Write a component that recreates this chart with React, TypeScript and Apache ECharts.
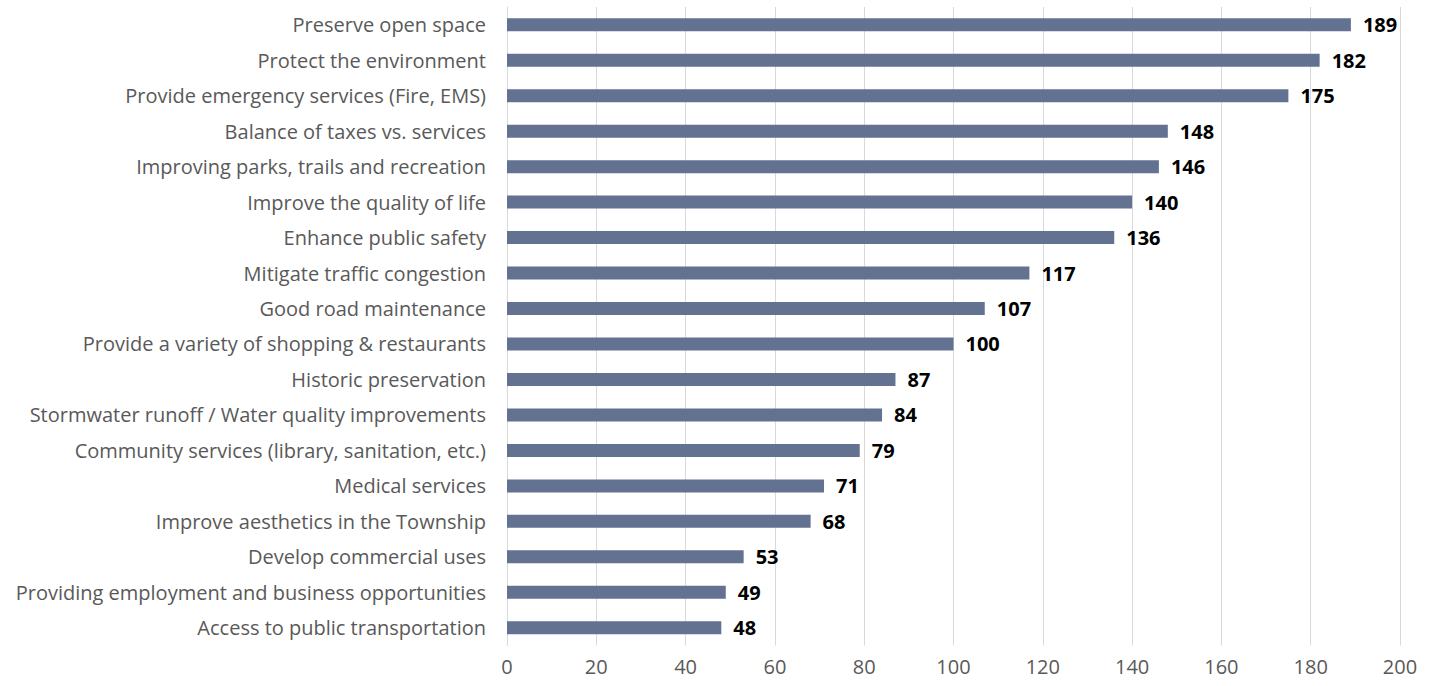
import React, { useEffect, useRef } from "react";
import * as echarts from "echarts";

const categories = [
  "Preserve open space",
  "Protect the environment",
  "Provide emergency services (Fire, EMS)",
  "Balance of taxes vs. services",
  "Improving parks, trails and recreation",
  "Improve the quality of life",
  "Enhance public safety",
  "Mitigate traffic congestion",
  "Good road maintenance",
  "Provide a variety of shopping & restaurants",
  "Historic preservation",
  "Stormwater runoff / Water quality improvements",
  "Community services (library, sanitation, etc.)",
  "Medical services",
  "Improve aesthetics in the Township",
  "Develop commercial uses",
  "Providing employment and business opportunities",
  "Access to public transportation",
];
const values = [189, 182, 175, 148, 146, 140, 136, 117, 107, 100, 87, 84, 79, 71, 68, 53, 49, 48];

export default function App() {
  const ref = useRef<HTMLDivElement>(null);
  useEffect(() => {
    const chart = echarts.init(ref.current!, null, { renderer: "svg" });
    chart.setOption({
      animation: false,
      grid: { left: 507, right: 35, top: 7, bottom: 40.5, containLabel: false },
      xAxis: {
        type: "value",
        min: 0,
        max: 200,
        interval: 20,
        axisLine: { show: false },
        axisTick: { show: false },
        splitLine: { show: true, lineStyle: { color: "#d9d9d9", width: 1 } },
        axisLabel: {
          color: "#595959",
          fontSize: 20,
          fontFamily: "Open Sans",
          margin: 11,
        },
      },
      yAxis: {
        type: "category",
        inverse: true,
        data: categories,
        axisLine: { show: true, lineStyle: { color: "#d9d9d9", width: 1 } },
        axisTick: { show: false },
        axisLabel: {
          color: "#595959",
          fontSize: 20,
          fontFamily: "Open Sans",
          margin: 21,
        },
      },
      series: [
        {
          type: "bar",
          data: values,
          barWidth: 13,
          itemStyle: { color: "#627290" },
          label: {
            show: true,
            position: "right",
            distance: 12,
            color: "#000000",
            fontWeight: "bold",
            fontSize: 20,
            fontFamily: "Open Sans",
          },
        },
      ],
    });
    return () => chart.dispose();
  }, []);
  return (
    <div
      ref={ref}
      style={{ position: "absolute", left: 0, top: 0, width: 1435, height: 686 }}
    />
  );
}
